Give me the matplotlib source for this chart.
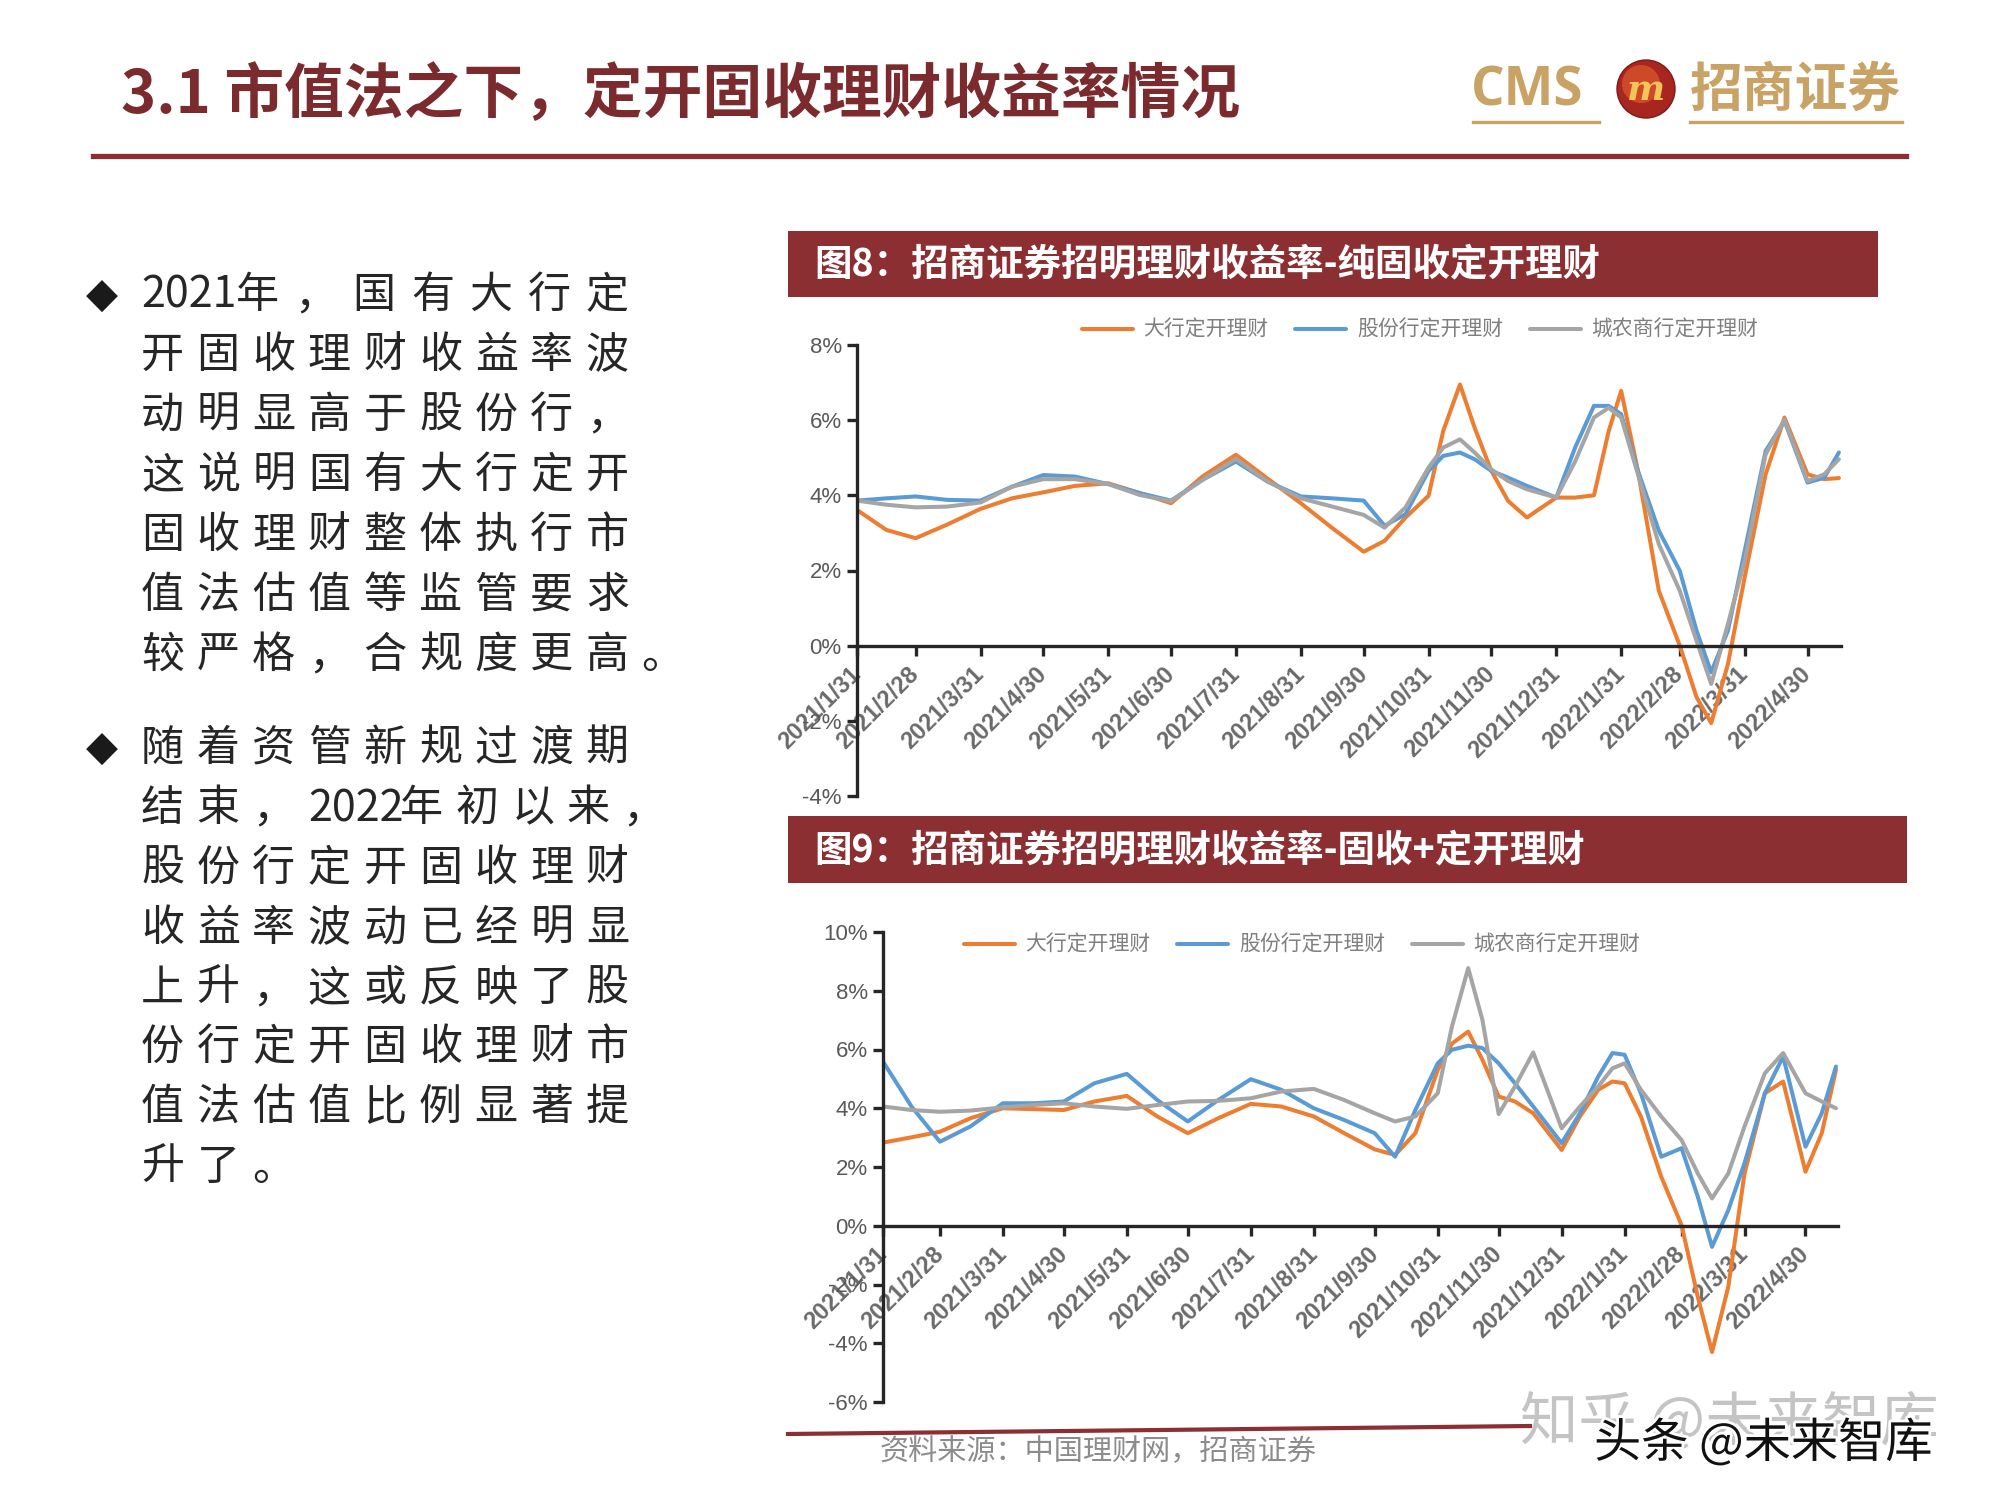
import re
import pandas as pd
import matplotlib
matplotlib.use("Agg")
import matplotlib.pyplot as plt
import matplotlib.patheffects as pe
from matplotlib.patches import Rectangle, Ellipse
from matplotlib.lines import Line2D

plt.rcParams['font.family'] = ['Noto Sans CJK SC', 'DejaVu Sans']
plt.rcParams['axes.unicode_minus'] = False

# ──────────── DATA (%) ────────────
dates = ['2021-01-31', '2021-02-14', '2021-02-28', '2021-03-15', '2021-03-31',
         '2021-04-15', '2021-04-30', '2021-05-15', '2021-05-31', '2021-06-15',
         '2021-06-30', '2021-07-15', '2021-07-31', '2021-08-15', '2021-08-31',
         '2021-09-15', '2021-09-30', '2021-10-10', '2021-10-20', '2021-10-31',
         '2021-11-07', '2021-11-15', '2021-11-22', '2021-11-30', '2021-12-08',
         '2021-12-17', '2021-12-31', '2022-01-09', '2022-01-18', '2022-01-25',
         '2022-01-31', '2022-02-08', '2022-02-18', '2022-02-28', '2022-03-08',
         '2022-03-15', '2022-03-23', '2022-03-31', '2022-04-10', '2022-04-19',
         '2022-04-30', '2022-05-08', '2022-05-15']

# 图8 纯固收定开
big_pure = [3.61, 3.08, 2.86, 3.22, 3.64, 3.92, 4.08, 4.25, 4.32, 4.06,
            3.79, 4.50, 5.08, 4.45, 3.79, 3.13, 2.50, 2.79, 3.41, 3.99,
            5.71, 6.95, 5.80, 4.65, 3.85, 3.41, 3.94, 3.94, 4.00, 5.70,
            6.78, 4.65, 1.46, 0.00, -1.37, -2.06, -0.49, 1.82, 4.56, 6.07,
            4.56, 4.43, 4.46]
joint_pure = [3.86, 3.92, 3.97, 3.88, 3.86, 4.23, 4.54, 4.50, 4.30, 4.06,
              3.86, 4.41, 4.90, 4.37, 3.97, 3.92, 3.86, 3.19, 3.50, 4.65,
              5.05, 5.14, 4.96, 4.65, 4.47, 4.25, 3.94, 5.27, 6.38, 6.38,
              6.16, 4.65, 3.06, 1.99, 0.40, -0.71, 0.40, 2.52, 5.18, 5.98,
              4.34, 4.47, 5.14]
rural_pure = [3.86, 3.75, 3.68, 3.70, 3.81, 4.23, 4.43, 4.43, 4.30, 4.01,
              3.84, 4.41, 4.97, 4.37, 3.92, 3.70, 3.48, 3.14, 3.68, 4.74,
              5.27, 5.49, 5.14, 4.69, 4.38, 4.16, 3.94, 4.90, 6.07, 6.33,
              6.07, 4.56, 2.70, 1.46, 0.13, -1.02, 0.58, 2.26, 5.09, 6.02,
              4.38, 4.56, 4.96]

# 图9 固收+定开
big_plus = [2.83, 3.01, 3.20, 3.66, 4.00, 3.97, 3.94, 4.23, 4.42, 3.72,
            3.15, 3.66, 4.15, 4.06, 3.72, 3.15, 2.60, 2.41, 3.15, 5.30,
            6.20, 6.61, 5.65, 4.40, 4.23, 3.83, 2.58, 3.72, 4.63, 4.91,
            4.85, 3.72, 1.67, 0.02, -2.42, -4.30, -2.08, 1.78, 4.51, 4.91,
            1.84, 3.15, 5.31]
joint_plus = [5.59, 4.06, 2.86, 3.38, 4.17, 4.17, 4.23, 4.85, 5.17, 4.28,
              3.55, 4.28, 4.99, 4.63, 4.00, 3.60, 3.15, 2.35, 3.94, 5.53,
              5.99, 6.13, 6.05, 5.53, 4.85, 4.06, 2.81, 3.83, 5.08, 5.88,
              5.82, 4.51, 2.35, 2.64, 0.99, -0.72, 0.53, 2.13, 4.51, 5.76,
              2.69, 3.83, 5.42]
rural_plus = [4.06, 3.94, 3.88, 3.92, 4.03, 4.11, 4.17, 4.06, 3.98, 4.11,
              4.23, 4.25, 4.34, 4.57, 4.66, 4.28, 3.83, 3.55, 3.72, 4.51,
              6.78, 8.77, 7.01, 3.80, 4.74, 5.90, 3.32, 4.06, 4.74, 5.36,
              5.53, 4.63, 3.72, 2.92, 1.78, 0.93, 1.78, 3.38, 5.19, 5.88,
              4.51, 4.23, 4.00]

series_names = ['大行定开理财', '股份行定开理财', '城农商行定开理财']
series_colors = ['#ED7D31', '#5B9BD5', '#A5A5A5']

tick_dates = ['2021-01-31', '2021-02-28', '2021-03-31', '2021-04-30', '2021-05-31',
              '2021-06-30', '2021-07-31', '2021-08-31', '2021-09-30', '2021-10-31',
              '2021-11-30', '2021-12-31', '2022-01-31', '2022-02-28', '2022-03-31',
              '2022-04-30']
tick_labels = ['2021/1/31', '2021/2/28', '2021/3/31', '2021/4/30', '2021/5/31',
               '2021/6/30', '2021/7/31', '2021/8/31', '2021/9/30', '2021/10/31',
               '2021/11/30', '2021/12/31', '2022/1/31', '2022/2/28', '2022/3/31',
               '2022/4/30']

para1 = ['2021年，国有大行定', '开固收理财收益率波', '动明显高于股份行，',
         '这说明国有大行定开', '固收理财整体执行市', '值法估值等监管要求',
         '较严格，合规度更高。']
para2 = ['随着资管新规过渡期', '结束，2022年初以来，', '股份行定开固收理财',
         '收益率波动已经明显', '上升，这或反映了股', '份行定开固收理财市',
         '值法估值比例显著提', '升了。']

# ──────────── COLOURS ────────────
DARK_RED = '#8B2F33'
TITLE_RED = '#7B2A2E'
GOLD = '#C9A265'
NUM_FONT = ['Liberation Sans Narrow', 'Liberation Sans', 'DejaVu Sans']

W, H = 2000, 1500
fig = plt.figure(figsize=(20, 15), dpi=100)
fig.patch.set_facecolor('white')


def fx(px):
    return px / W


def fy(py):
    return 1 - py / H


# ──────────── HEADER ────────────
fig.text(fx(121), fy(96), '3.1 市值法之下，定开固收理财收益率情况', fontsize=43,
         fontweight='bold', color=TITLE_RED, ha='left', va='center')
fig.add_artist(Line2D([fx(93), fx(1906)], [fy(156), fy(156)], color=DARK_RED, lw=3.8))

# logo
fig.text(fx(1471), fy(92), 'CMS', fontsize=38, fontweight='bold', color=GOLD,
         family=['Open Sans', 'DejaVu Sans'], ha='left', va='center')
fig.add_artist(Line2D([fx(1473), fx(1599)], [fy(122), fy(122)], color=GOLD, lw=2.4))
fig.add_artist(Line2D([fx(1690), fx(1902)], [fy(122), fy(122)], color=GOLD, lw=2.4))
fig.add_artist(Ellipse((fx(1646), fy(89)), 58 / W, 58 / H, transform=fig.transFigure,
                       facecolor='#A8261F', edgecolor='#7E1A15', lw=1))
fig.add_artist(Ellipse((fx(1641), fy(84)), 38 / W, 38 / H, transform=fig.transFigure,
                       facecolor='#D8532A', edgecolor='none', alpha=0.8))
fig.text(fx(1646), fy(90), 'm', fontsize=26, fontweight='bold', fontstyle='italic',
         color='#F3C457', family=['DejaVu Serif'], ha='center', va='center')
fig.text(fx(1690), fy(90), '招商证券', fontsize=38, fontweight='bold', color=GOLD,
         ha='left', va='center')

# ──────────── LEFT TEXT ────────────
PITCH = 55.6


def draw_line(line, x0, y, justify):
    tokens = re.findall(r'\d+|.', line)
    widths = [0.415 * len(t) if t.isdigit() else 1.0 for t in tokens]
    total = sum(widths)
    gap = (9 - total) / (len(tokens) - 1) if justify and total < 9 and len(tokens) > 1 else 0
    pos = 0.0
    for t, w in zip(tokens, widths):
        fig.text(fx(x0 + pos * PITCH), fy(y), t, fontsize=31, color='#262626',
                 ha='left', va='center')
        pos += w + gap


para1_y = [296, 356, 416, 476, 536, 596, 656]
para2_y = [749, 809, 869, 929, 989, 1048, 1108, 1168]
for para, ys in [(para1, para1_y), (para2, para2_y)]:
    fig.text(fx(102), fy(ys[0]), '◆', fontsize=30, color='#1a1a1a',
             family=['DejaVu Sans'], ha='center', va='center')
    for i, (line, y) in enumerate(zip(para, ys)):
        draw_line(line, 141, y, justify=i < len(para) - 1)

# ──────────── CHARTS ────────────
x = pd.to_datetime(dates)


def draw_chart(rect, ylim, bar, bar_title, legend_xy, series):
    # red caption bar
    bx0, by0, bx1, by1 = bar
    fig.add_artist(Rectangle((fx(bx0), fy(by1)), (bx1 - bx0) / W, (by1 - by0) / H,
                             transform=fig.transFigure, facecolor=DARK_RED,
                             edgecolor='none'))
    fig.text(fx(814), fy((by0 + by1) / 2), bar_title, fontsize=27, fontweight='bold',
             color='white', ha='left', va='center')

    ax = fig.add_axes(rect)
    ax.patch.set_alpha(0)
    for name, vals, c in zip(series_names, series, series_colors):
        ax.plot(x, vals, color=c, lw=2.9, label=name,
                solid_joinstyle='round', solid_capstyle='round')

    # spine position first: it resets the tick objects
    for s in ['top', 'right']:
        ax.spines[s].set_visible(False)
    ax.spines['bottom'].set_position(('data', 0))
    for s in ['left', 'bottom']:
        ax.spines[s].set_linewidth(2.4)
        ax.spines[s].set_color('#262626')

    ax.set_xlim(pd.Timestamp('2021-01-31'), pd.Timestamp('2022-05-16'))
    ax.set_ylim(*ylim)
    yt = list(range(ylim[0], ylim[1] + 1, 2))
    ax.set_yticks(yt)
    ax.set_yticklabels([f'{v}%' for v in yt], family=NUM_FONT, fontsize=16,
                       color='#595959')
    ax.set_xticks(pd.to_datetime(tick_dates))
    ax.set_xticklabels(tick_labels, rotation=45, ha='right', va='center',
                       rotation_mode='anchor', fontsize=17, fontweight='bold',
                       color='#6a6a6a', family=['Liberation Sans', 'DejaVu Sans'])

    ax.tick_params(axis='both', direction='out', length=7, width=2.4, color='#262626')
    ax.tick_params(axis='x', pad=11)
    ax.tick_params(axis='y', pad=4)

    handles, labels = ax.get_legend_handles_labels()
    fig.legend(handles, labels, loc='center', bbox_to_anchor=legend_xy, ncol=3,
               frameon=False, fontsize=15, handlelength=2.45, handletextpad=0.5,
               columnspacing=1.3, labelcolor='#7f7f7f')
    return ax


ax1 = draw_chart([fx(857), fy(796), (1841 - 857) / W, (796 - 345) / H], (-4, 8),
                 (788, 231, 1878, 297), '图8：招商证券招明理财收益率-纯固收定开理财',
                 (fx(1420), fy(330)), [big_pure, joint_pure, rural_pure])
ax2 = draw_chart([fx(883), fy(1402), (1838 - 883) / W, (1402 - 932) / H], (-6, 10),
                 (788, 816, 1907, 883), '图9：招商证券招明理财收益率-固收+定开理财',
                 (fx(1302), fy(945)), [big_plus, joint_plus, rural_plus])

# ──────────── FOOTER ────────────
fig.add_artist(Line2D([fx(788), fx(1530)], [fy(1434), fy(1426)], color=DARK_RED, lw=3))
fig.text(fx(880), fy(1452), '资料来源：中国理财网，招商证券', fontsize=21,
         color='#8c8c8c', ha='left', va='center')

# watermarks (overlapping on purpose, as on the slide)
fig.text(fx(1520), fy(1424), '知乎 @未来智库', fontsize=42, color='#c4c4c4',
         ha='left', va='center')
fig.text(fx(1594), fy(1444), '头条 @未来智库', fontsize=34,
         color='#111111', ha='left', va='center',
         path_effects=[pe.withStroke(linewidth=4, foreground='white')])

plt.savefig('out.png', dpi=100)
